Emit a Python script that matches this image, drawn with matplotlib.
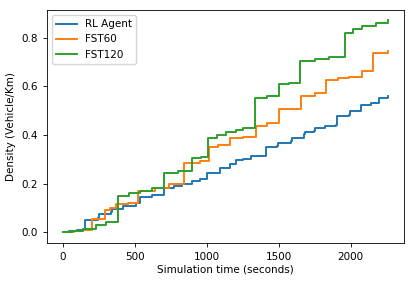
import matplotlib
matplotlib.use('Agg')
import matplotlib.pyplot as plt

# cumulative density
rl_t = [0, 40, 100, 150, 153, 245, 248, 335, 340, 420, 510, 534, 537, 620, 700, 705, 770, 830,
        900, 950, 1000, 1090, 1160, 1205, 1250, 1305, 1410, 1415, 1490, 1495, 1585, 1590,
        1675, 1680, 1745, 1750, 1820, 1900, 1905, 1990, 1995, 2070, 2075, 2140, 2200, 2260]
rl_v = [0, 0.005, 0.01, 0.015, 0.052, 0.06, 0.076, 0.083, 0.097, 0.106, 0.121, 0.125, 0.144,
        0.152, 0.165, 0.183, 0.19, 0.199, 0.212, 0.22, 0.244, 0.265, 0.28, 0.297, 0.302,
        0.314, 0.334, 0.35, 0.355, 0.366, 0.375, 0.389, 0.405, 0.41, 0.416, 0.43, 0.435,
        0.44, 0.478, 0.482, 0.50, 0.509, 0.522, 0.532, 0.55, 0.56]

fst60_t = [0, 80, 140, 200, 290, 295, 330, 370, 450, 525, 640, 740, 840, 950, 1015, 1080, 1160,
           1250, 1340, 1420, 1505, 1580, 1655, 1755, 1830, 1910, 1990, 2080, 2155, 2260]
fst60_v = [0, 0.003, 0.008, 0.056, 0.065, 0.09, 0.10, 0.114, 0.12, 0.171, 0.18, 0.2, 0.283,
           0.291, 0.352, 0.36, 0.386, 0.39, 0.437, 0.45, 0.505, 0.508, 0.559, 0.573, 0.627,
           0.632, 0.637, 0.661, 0.736, 0.745]

fst120_t = [0, 60, 140, 230, 300, 385, 460, 534, 620, 700, 800, 895, 960, 1010, 1070, 1135,
            1200, 1250, 1335, 1420, 1500, 1570, 1645, 1750, 1850, 1960, 2020, 2080, 2180, 2260]
fst120_v = [0, 0.005, 0.013, 0.029, 0.04, 0.147, 0.16, 0.171, 0.18, 0.245, 0.25, 0.307, 0.31,
            0.389, 0.4, 0.41, 0.42, 0.43, 0.552, 0.56, 0.609, 0.613, 0.705, 0.71, 0.72, 0.818,
            0.835, 0.849, 0.86, 0.87]

fig, ax = plt.subplots(figsize=(4.15, 2.83), dpi=100)
fig.subplots_adjust(left=0.1125, right=0.974, bottom=0.142, top=0.965)

ax.plot(rl_t, rl_v, color='#1f77b4', lw=1.4, drawstyle='steps-post', label='RL Agent')
ax.plot(fst60_t, fst60_v, color='#ff7f0e', lw=1.4, drawstyle='steps-post', label='FST60')
ax.plot(fst120_t, fst120_v, color='#2ca02c', lw=1.4, drawstyle='steps-post', label='FST120')

ax.set_xlabel('Simulation time (seconds)', fontsize=7.5, labelpad=2)
ax.set_ylabel('Density (Vehicle/Km)', fontsize=7.5, labelpad=4)
ax.tick_params(labelsize=7.5, width=0.6, length=3)
for s in ax.spines.values():
    s.set_linewidth(0.6)
ax.legend(loc='upper left', fontsize=7.5)

fig.savefig('out.png', dpi=100)
